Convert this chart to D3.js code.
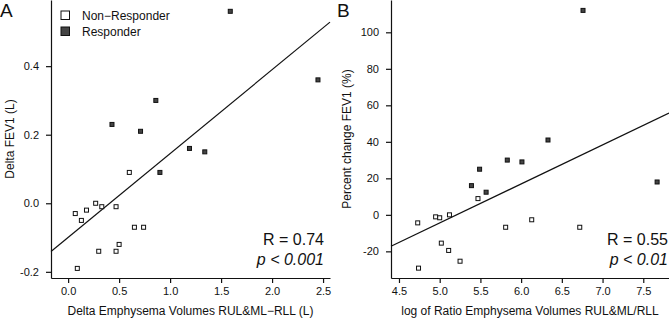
<!DOCTYPE html>
<html>
<head>
<meta charset="utf-8">
<script src="https://cdn.jsdelivr.net/npm/d3@7"></script>
<style>
  body { margin: 0; background: #fff; }
  svg { display: block; font-family: "Liberation Sans", Arial, sans-serif; }
</style>
</head>
<body>
<div id="chart"></div>
<script>
"use strict";
// Panel A: delta emphysema volume (L) vs delta FEV1 (L)
const aRespX = [1.59, 2.45, 0.86, 0.43, 0.71, 1.19, 1.34, 0.90];
const aRespY = [0.56, 0.36, 0.30, 0.23, 0.21, 0.16, 0.15, 0.09];
const aNonX = [0.60, 0.07, 0.13, 0.18, 0.27, 0.33, 0.47, 0.65, 0.74, 0.50, 0.30, 0.47, 0.09];
const aNonY = [0.09, -0.03, -0.05, -0.02, 0.00, -0.01, -0.01, -0.07, -0.07, -0.12, -0.14, -0.14, -0.19];
const aFit = { slope: 0.2445, intercept: -0.0994 };
const aXTicks = [0, 0.5, 1, 1.5, 2, 2.5];
const aYTicks = [-0.2, 0, 0.2, 0.4];

// Panel B: log ratio of emphysema volumes vs percent change FEV1
const bRespX = [6.76, 6.33, 5.83, 6.01, 5.49, 5.39, 5.57, 7.67];
const bRespY = [112, 41, 30, 29, 25, 16, 12.4, 18];
const bNonX = [5.47, 4.73, 4.95, 5.00, 5.12, 5.81, 6.13, 6.72, 5.02, 5.11, 5.25, 4.74];
const bNonY = [8.9, -4.4, -1.1, -1.6, 0, -6.8, -2.7, -6.8, -15.5, -19.5, -25.4, -29.2];
const bFit = { slope: 21.37, intercept: -111.3 };
const bXTicks = [4.5, 5, 5.5, 6, 6.5, 7, 7.5];
const bYTicks = [-20, 0, 20, 40, 60, 80, 100];

const width = 669;
const height = 328;

const svg = d3.select('#chart').append('svg')
  .attr('width', width)
  .attr('height', height);

const toPts = (xs, ys) => xs.map((v, i) => ({ x: v, y: ys[i] }));

// draws one scatter panel with its regression line
const panel = (opt) => {
  const x = d3.scaleLinear().domain(opt.xDomain).range([opt.left, opt.right]);
  const y = d3.scaleLinear().domain(opt.yDomain).range([278, 0]);
  const g = svg.append('g');

  const xAxis = g.append('g')
    .attr('transform', 'translate(0,278)')
    .call(d3.axisBottom(x).tickValues(opt.xTicks).tickSize(5).tickSizeOuter(0)
      .tickPadding(4).tickFormat(opt.xFmt));
  const yAxis = g.append('g')
    .attr('transform', `translate(${opt.left},0)`)
    .call(d3.axisLeft(y).tickValues(opt.yTicks).tickSize(5).tickSizeOuter(0)
      .tickPadding(7).tickFormat(opt.yFmt));
  [xAxis, yAxis].forEach(a => {
    a.selectAll('path, line').attr('stroke', '#111').attr('stroke-width', 1.2);
    a.selectAll('text').attr('font-size', 11).attr('fill', '#111')
      .attr('font-family', '"Liberation Sans", Arial, sans-serif');
  });

  // regression line
  const x0 = opt.xDomain[0], x1 = opt.xDomain[1];
  g.append('line')
    .attr('x1', x(x0)).attr('y1', y(opt.fit.intercept + opt.fit.slope * x0))
    .attr('x2', x(x1)).attr('y2', y(opt.fit.intercept + opt.fit.slope * x1))
    .attr('stroke', '#111').attr('stroke-width', 1.2);

  const drawPts = (pts, fill) => {
    g.selectAll(null).data(pts).enter().append('rect')
      .attr('x', d => x(d.x) - 2)
      .attr('y', d => y(d.y) - 2)
      .attr('width', 4).attr('height', 4)
      .attr('fill', fill)
      .attr('stroke', '#111').attr('stroke-width', 1);
  };
  drawPts(opt.non, '#fff');
  drawPts(opt.resp, '#444');

  // axis titles
  g.append('text')
    .attr('x', (opt.left + opt.right) / 2).attr('y', 315)
    .attr('text-anchor', 'middle').attr('font-size', 12).attr('fill', '#111')
    .text(opt.xTitle);
  g.append('text')
    .attr('transform', `translate(${opt.yTitleX},139) rotate(-90)`)
    .attr('text-anchor', 'middle').attr('dy', '0.35em')
    .attr('font-size', 12).attr('fill', '#111')
    .text(opt.yTitle);

  // panel letter
  g.append('text')
    .attr('x', opt.letterX).attr('y', 17)
    .attr('font-size', 19).attr('fill', '#111')
    .text(opt.letter);

  // stats
  g.append('text')
    .attr('x', opt.statX).attr('y', 245)
    .attr('text-anchor', 'end').attr('font-size', 16).attr('fill', '#111')
    .text(opt.r);
  g.append('text')
    .attr('x', opt.statX).attr('y', 265)
    .attr('text-anchor', 'end').attr('font-size', 16).attr('fill', '#111')
    .attr('font-style', 'italic')
    .text(opt.p);
  return g;
};

const dash = s => s.replace('\u2212', '-');

const gA = panel({
  left: 51, right: 330,
  xDomain: [-0.168, 2.568], yDomain: [-0.218, 0.593],
  xTicks: aXTicks, yTicks: aYTicks,
  xFmt: d3.format('.1f'), yFmt: d => dash(d3.format('.1f')(d)),
  fit: aFit,
  resp: toPts(aRespX, aRespY), non: toPts(aNonX, aNonY),
  xTitle: 'Delta Emphysema Volumes RUL&ML\u2212RLL (L)',
  yTitle: 'Delta FEV1 (L)', yTitleX: 10,
  letter: 'A', letterX: 0,
  statX: 324, r: 'R = 0.74', p: 'p < 0.001'
});

panel({
  left: 391, right: 669,
  xDomain: [4.402, 7.816], yDomain: [-34.6, 117.7],
  xTicks: bXTicks, yTicks: bYTicks,
  xFmt: d3.format('.1f'), yFmt: d => dash(d3.format('d')(d)),
  fit: bFit,
  resp: toPts(bRespX, bRespY), non: toPts(bNonX, bNonY),
  xTitle: 'log of Ratio Emphysema Volumes RUL&ML/RLL',
  yTitle: 'Percent change FEV1 (%)', yTitleX: 347,
  letter: 'B', letterX: 337,
  statX: 668, r: 'R = 0.55', p: 'p < 0.01'
});

// legend in panel A
const legend = ['Non\u2212Responder', 'Responder'];
const legendFill = ['#fff', '#444'];
const lg = gA.append('g');
legend.forEach((t, i) => {
  lg.append('rect')
    .attr('x', 61).attr('y', 11 + i * 16)
    .attr('width', 8.5).attr('height', 8.5)
    .attr('fill', legendFill[i]).attr('stroke', '#111').attr('stroke-width', 1);
  lg.append('text')
    .attr('x', 82).attr('y', 20 + i * 15.5)
    .attr('font-size', 12).attr('fill', '#111')
    .text(t);
});
</script>
</body>
</html>
